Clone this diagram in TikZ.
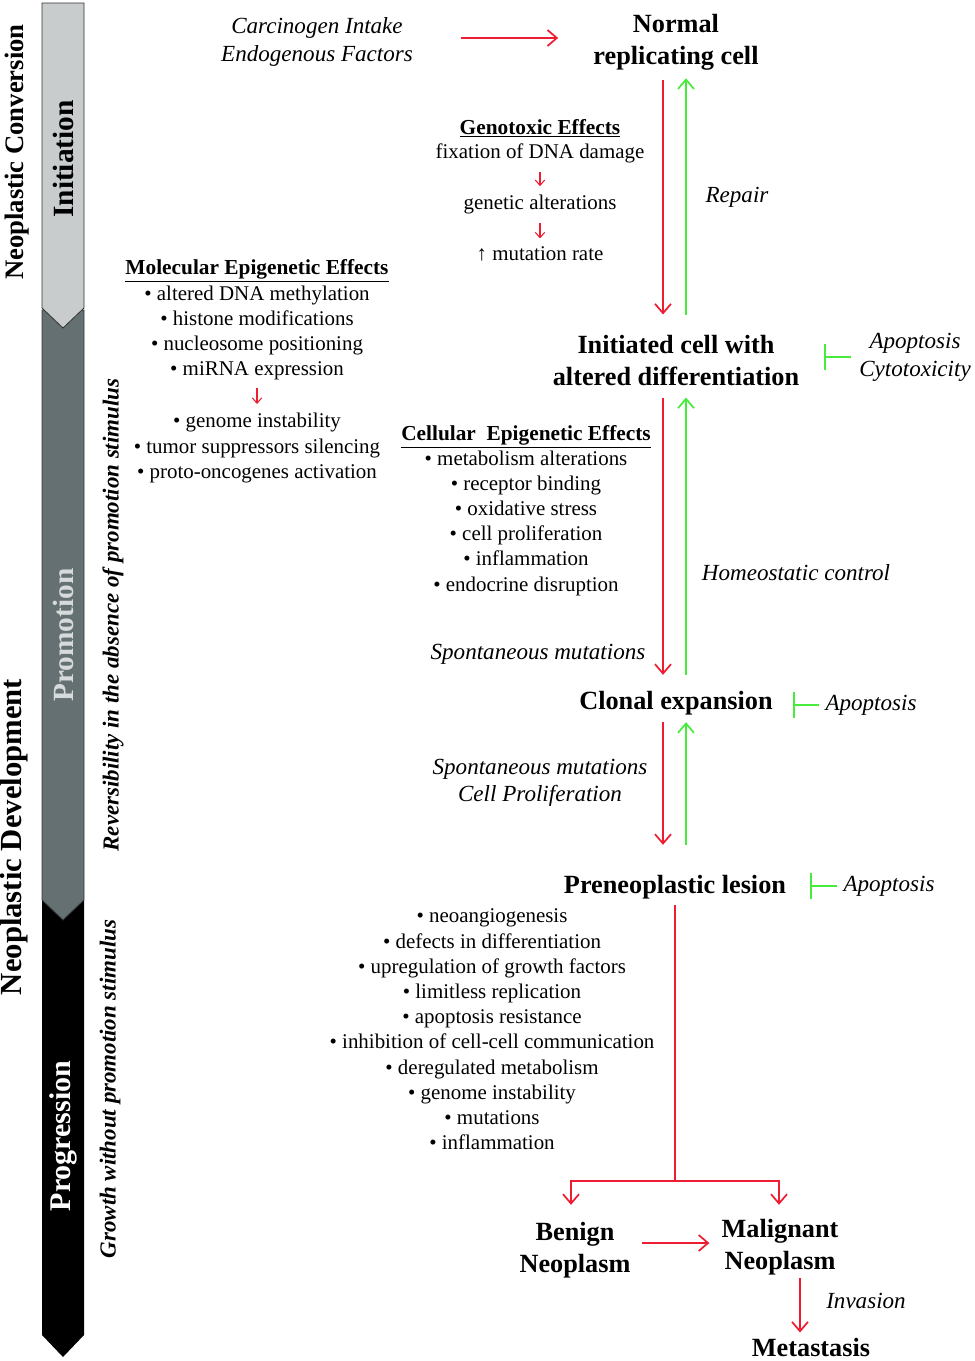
\documentclass[tikz,border=0pt]{standalone}
\usepackage{fontspec}
\setmainfont{Liberation Serif}
\usetikzlibrary{arrows.meta,calc}
\definecolor{cred}{RGB}{238,30,50}
\definecolor{cgreen}{RGB}{70,235,60}
\definecolor{lightbar}{RGB}{200,204,204}
\definecolor{midbar}{RGB}{100,112,114}
\definecolor{promotxt}{RGB}{215,218,218}
\begin{document}
\begin{tikzpicture}[x=0.75pt,y=-0.75pt,
  bignode/.style={font=\fontsize{19.7}{24}\selectfont\bfseries, align=center, inner sep=0pt},
  listtext/.style={font=\fontsize{15.7}{18.9}\selectfont, align=center, inner sep=0pt},
  header/.style={font=\fontsize{16}{19}\selectfont\bfseries, inner sep=0pt},
  lab/.style={font=\fontsize{17.3}{21}\selectfont\itshape, align=center, inner sep=0pt},
  sidetext/.style={rotate=90, inner sep=0pt},
  barshape/.style={draw=black!80, line width=0.6pt},
  redarrow/.style={draw=cred, line width=1.3pt, -{Straight Barb[length=7pt,width=12pt]}},
  redline/.style={draw=cred, line width=1.3pt},
  smallred/.style={draw=cred, line width=0.8pt, -{Straight Barb[length=4pt,width=7pt]}},
  greenarrow/.style={draw=cgreen, line width=1.3pt, -{Straight Barb[length=7pt,width=12pt]}},
  inhib/.style={draw=cgreen, line width=1.3pt, -{Bar[width=19pt]}}
]
\useasboundingbox (0,0) rectangle (975,1361);

% ---- left bar ----
\fill[black] (42,900) -- (84,900) -- (84,1335) -- (63,1357) -- (42,1335) -- cycle;
\filldraw[barshape, fill=midbar] (42,310) -- (84,310) -- (84,900) -- (63,920) -- (42,900) -- cycle;
\filldraw[barshape, fill=lightbar] (42,3) -- (84,3) -- (84,308) -- (63,328) -- (42,308) -- cycle;

\node[sidetext, font=\fontsize{22}{26}\selectfont\bfseries] (tinit) at (63,159) {Initiation};
\node[sidetext, font=\fontsize{22}{26}\selectfont\bfseries, text=promotxt] (tpromo) at (63,635) {Promotion};
\node[sidetext, font=\fontsize{22.5}{26}\selectfont\bfseries, text=white] (tprog) at (63,1136) {Progression};
\node[sidetext, font=\fontsize{20}{24}\selectfont\bfseries] (tconv) at (17,152) {Neoplastic Conversion};
\node[sidetext, font=\fontsize{23}{27}\selectfont\bfseries] (tdev) at (14,837) {Neoplastic Development};
\node[sidetext, font=\fontsize{17.2}{21}\selectfont\bfseries\itshape] (trev) at (113,615) {Reversibility in the absence of promotion stimulus};
\node[sidetext, font=\fontsize{17.2}{21}\selectfont\bfseries\itshape] (tgrow) at (110,1089) {Growth without promotion stimulus};

% ---- main nodes ----
\node[bignode] (normal) at (676,42) {Normal\\replicating cell};
\node[bignode] (init) at (676,361) {Initiated cell with\\altered differentiation};
\node[bignode] (clonal) at (676,703) {Clonal expansion};
\node[bignode] (prelesion) at (675,887) {Preneoplastic lesion};
\node[bignode] (benign) at (575,1250) {Benign\\Neoplasm};
\node[bignode] (malignant) at (780,1247) {Malignant\\Neoplasm};
\node[bignode] (metastasis) at (811,1347) {Metastasis};

% ---- labels ----
\node[lab] (carc) at (317,42) {Carcinogen Intake\\Endogenous Factors};
\node[lab] (repair) at (737,197) {Repair};
\node[lab] (homeo) at (796,573) {Homeostatic control};
\node[lab] (spont1) at (538,654) {Spontaneous mutations};
\node[lab, font=\fontsize{17.3}{20.3}\selectfont\itshape] (spont2) at (540,783) {Spontaneous mutations\\Cell Proliferation};
\node[lab] (apop1) at (915,357) {Apoptosis\\Cytotoxicity};
\node[lab] (apop2) at (871,705) {Apoptosis};
\node[lab] (apop3) at (889,886) {Apoptosis};
\node[lab] (invasion) at (866,1301) {Invasion};

% ---- genotoxic ----
\node[header] (genohead) at (540,128) {\underline{Genotoxic Effects}};
\node[listtext] (fix) at (540,153) {fixation of DNA damage};
\node[listtext] (genalt) at (540,204) {genetic alterations};
\node[listtext] (mutrate) at (540,254) {↑ mutation rate};
\draw[smallred] ($(fix.south)+(0,9)$) -- ($(genalt.north)+(0,-8)$);
\draw[smallred] ($(genalt.south)+(0,9)$) -- ($(mutrate.north)+(0,-8)$);

% ---- molecular epigenetic ----
\node[header] (molhead) at (257,271) {\underline{Molecular Epigenetic Effects}};
\node[listtext] (mollistA) at (257,333) {• altered DNA methylation\\• histone modifications\\• nucleosome positioning\\• miRNA expression};
\node[listtext] (mollistB) at (257,448) {• genome instability\\• tumor suppressors silencing\\• proto-oncogenes activation};
\draw[smallred] ($(mollistA.south)+(0,7)$) -- ($(mollistB.north)+(0,-9)$);

% ---- cellular epigenetic ----
\node[header] (celhead) at (526,437) {\underline{Cellular\ \ Epigenetic Effects}};
\node[listtext] (cellist) at (526,523) {• metabolism alterations\\• receptor binding\\• oxidative stress\\• cell proliferation\\• inflammation\\• endocrine disruption};

% ---- progression list ----
\node[listtext] (proglist) at (492,1029.5) {• neoangiogenesis\\• defects in differentiation\\• upregulation of growth factors\\• limitless replication\\• apoptosis resistance\\• inhibition of cell-cell communication\\• deregulated metabolism\\• genome instability\\• mutations\\• inflammation};

% ---- connectors ----
\draw[redarrow] ($(carc.east)+(48,-4)$) -- ($(normal.west)+(-35,-4)$);

\draw[redarrow] ($(normal.south)+(-13,10)$) -- ($(init.north)+(-13,-21)$);
\draw[greenarrow] ($(init.north)+(10,-21)$) -- ($(normal.south)+(10,8)$);

\draw[redarrow] ($(init.south)+(-13,11)$) -- ($(clonal.north)+(-13,-16)$);
\draw[greenarrow] ($(clonal.north)+(10,-16)$) -- ($(init.south)+(10,11)$);

\draw[redarrow] ($(clonal.south)+(-13,7)$) -- ($(prelesion.north)+(-12,-30)$);
\draw[greenarrow] ($(prelesion.north)+(11,-30)$) -- ($(clonal.south)+(10,7)$);

\draw[inhib, shorten <=6pt, shorten >=18.75pt] (apop1.west) -- (apop1.west -| init.east);
\draw[inhib, shorten <=4.5pt, shorten >=15pt] (apop2.west) -- (apop2.west -| clonal.east);
\draw[inhib, shorten <=4.5pt, shorten >=18pt] (apop3.west) -- (apop3.west -| prelesion.east);

\coordinate (split) at ($(prelesion.south)+(0,282)$);
\draw[redline] ($(prelesion.south)+(0,6)$) -- (split);
\draw[redarrow, shorten >=12.75pt] (split) -| ($(benign.north)+(-4,0)$);
\draw[redarrow, shorten >=10.5pt] (split) -| ($(malignant.north)+(-1,0)$);

\draw[redarrow] ($(benign.east)+(11,-7)$) -- ($(malignant.west)+(-12,-4)$);
\draw[redarrow] ($(malignant.south)+(20,3)$) -- ($(metastasis.north)+(-11,-5)$);
\end{tikzpicture}
\end{document}
